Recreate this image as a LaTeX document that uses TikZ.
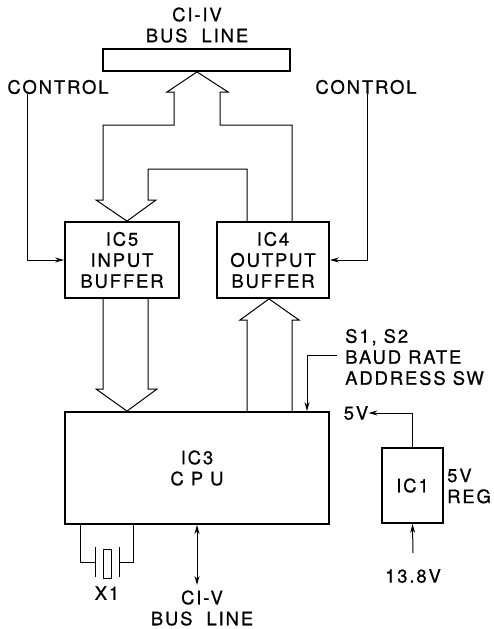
\documentclass[tikz,border=0pt]{standalone}
\usepackage{fontspec}
\setmainfont{TeX Gyre Heros}[LetterSpace=10, FakeBold=0.6]
\usetikzlibrary{positioning,arrows.meta}

\tikzset{
	block/.style={draw, line width=1.8pt, inner sep=0pt, align=center},
	txt/.style={inner sep=0pt, align=center},
	sig/.style={line width=1pt, -{Stealth[length=9pt,width=5pt]}},
	bus/.style={line width=1pt, line join=miter},
}

\begin{document}
\begin{tikzpicture}[x=1pt, y=-1pt,
	every node/.style={font=\fontsize{18.5}{21}\selectfont}]

\useasboundingbox (0,0) rectangle (493,629);

% CI-IV bus line
\node [txt] (civ_label) at (197,25) {CI-IV\\BUS\ \ LINE};
\node [block,
	minimum width=187pt,
	minimum height=22pt
] (civ_bus) at (196.5,60) {};

% Input buffer
\node [block,
	minimum width=114pt,
	minimum height=76pt
] (ic5) at (122,260) {IC5\\INPUT\\BUFFER};

% Output buffer
\node [block,
	minimum width=112pt,
	minimum height=76pt
] (ic4) at (273,260) {IC4\\OUTPUT\\BUFFER};

% CPU
\node [block,
	minimum width=264pt,
	minimum height=112pt
] (cpu) at (197,468) {IC3\\C P U};

% Regulator
\node [block,
	minimum width=61pt,
	minimum height=75pt
] (ic1) at (412.5,485.5) {IC1};
\node [txt, align=left, anchor=west] (reg_label) at (447,486) {5V\\REG};

% Control inputs
\node [txt] (ctrl_left) at (58,87) {CONTROL};
\node [txt] (ctrl_right) at (366,87) {CONTROL};

% Switches
\node [txt, align=left, anchor=west] (switches) at (345,357) {S1, S2\\BAUD RATE\\ADDRESS SW};

% Supply labels
\node [txt] (out_5v) at (356,413) {5V};
\node [txt] (in_138v) at (413,576) {13.8V};

% CI-V bus line
\node [txt] (civ5_label) at (202,608) {CI-V\\BUS\ \ LINE};

% Crystal label
\node [txt] (x1_label) at (107,593) {X1};

% Bus between CI-IV and the buffers
\draw [bus] (127,0 |- ic5.north) -- (96,200) -- (103,200) -- (103,125) -- (174,125)
	-- (174,92) -- (167,92) -- (197,0 |- civ_bus.south) -- (228,92) -- (220,92)
	-- (220,125) -- (292,125) -- (292,0 |- ic4.north);
\draw [bus] (247,0 |- ic4.north) -- (247,169) -- (148,169) -- (148,200) -- (156,200)
	-- (127,0 |- ic5.north);

% Bus from input buffer to CPU
\draw [bus] (103,0 |- ic5.south) -- (103,389) -- (96,389) -- (127,0 |- cpu.north)
	-- (157,389) -- (148,389) -- (148,0 |- ic5.south);

% Bus from CPU to output buffer
\draw [bus] (247,0 |- cpu.north) -- (247,320) -- (240,320) -- (269,0 |- ic4.south)
	-- (299,320) -- (292,320) -- (292,0 |- cpu.north);

% Control arrows
\draw [sig] (ctrl_left.south -| 27,0) |- (ic5.west);
\draw [sig] (ctrl_right.south -| 367,0) |- (ic4.east);

% Switch arrow
\draw [sig] ([xshift=-8pt, yshift=2pt]switches.west) -| (cpu.north -| 307,0);

% Regulator arrows
\draw [sig] (ic1.north) |- (out_5v.east);
\draw [sig] ([yshift=16pt]in_138v.north) -- (ic1.south);

% CI-V bus arrow
\draw [line width=1pt, {Stealth[length=9pt,width=5pt]}-{Stealth[length=9pt,width=5pt]}]
	(cpu.south -| 197,0) -- (197,585);

% Crystal
\draw [line width=1pt] (cpu.south -| 80,0) |- (95,562);
\draw [line width=1pt] (cpu.south -| 133,0) |- (119,562);
\draw [line width=1pt] (95,547) -- (95,577);
\draw [line width=1pt] (119,547) -- (119,577);
\draw [line width=1pt] (103,549) rectangle (111,578);

\end{tikzpicture}
\end{document}
